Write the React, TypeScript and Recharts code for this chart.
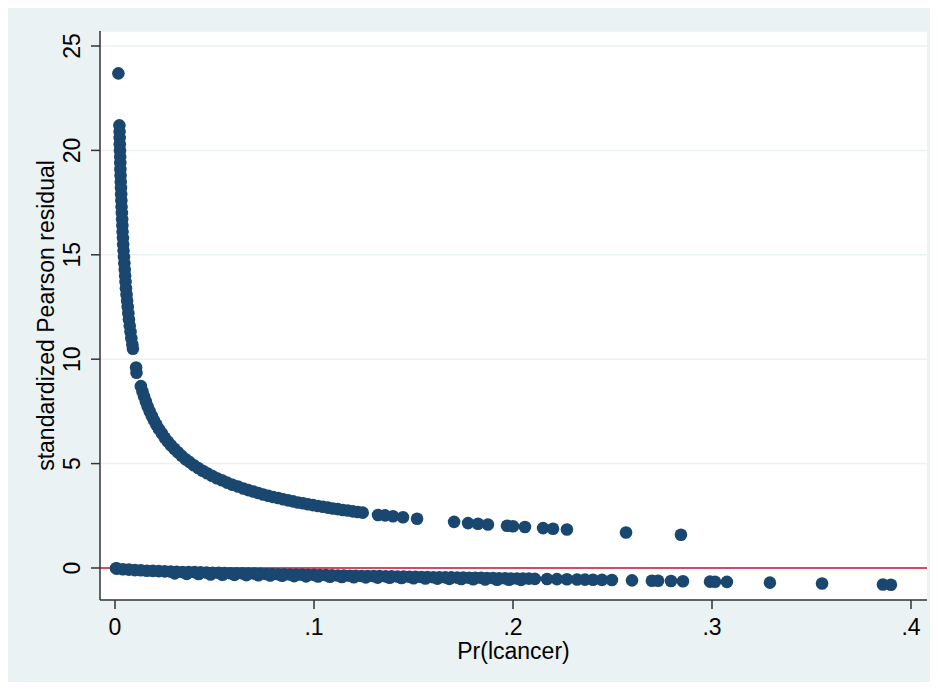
import { ScatterChart, Scatter, XAxis, YAxis, CartesianGrid, ReferenceLine } from 'recharts';

const FONT = '"Liberation Sans", Arial, Helvetica, sans-serif';
const NAVY = '#1a476f';
const BG = '#eaf2f3';

// [Pr(lcancer), standardized Pearson residual]
const upperTop: [number, number][] = [[0.0017, 23.69]];

const upperSteep: [number, number][] = [
  [0.0022, 21.2], [0.0023, 20.9], [0.00235, 20.6], [0.0024, 20.3], [0.0025, 20.0],
  [0.0026, 19.7], [0.00265, 19.4], [0.0027, 19.1], [0.0028, 18.8], [0.0029, 18.5],
  [0.003, 18.2], [0.0031, 17.9], [0.0032, 17.6], [0.0033, 17.3], [0.00345, 17.0],
  [0.0036, 16.7], [0.0037, 16.4], [0.0038, 16.1], [0.004, 15.8], [0.0041, 15.5],
  [0.0043, 15.2], [0.0045, 14.9], [0.0047, 14.6], [0.0049, 14.3], [0.0051, 14.0],
  [0.0053, 13.7], [0.0055, 13.4], [0.0058, 13.1], [0.0061, 12.8], [0.0064, 12.5],
  [0.0067, 12.2], [0.007, 11.9], [0.0074, 11.6], [0.0078, 11.3], [0.0082, 11.0],
  [0.0087, 10.7], [0.009, 10.5],
  [0.0106, 9.6], [0.0108, 9.35],
];

const upperBend: [number, number][] = [
  [0.013, 8.71], [0.0138, 8.45], [0.0146, 8.22], [0.0155, 7.97], [0.0164, 7.74],
  [0.0174, 7.51], [0.0185, 7.28], [0.0196, 7.07], [0.0208, 6.86], [0.0221, 6.65],
  [0.0235, 6.45], [0.025, 6.24], [0.0265, 6.06], [0.0281, 5.88], [0.0298, 5.71],
  [0.0316, 5.54], [0.0335, 5.37], [0.0355, 5.21], [0.0375, 5.07], [0.0396, 4.92],
  [0.0418, 4.79], [0.044, 4.66], [0.0463, 4.54], [0.0487, 4.42], [0.0512, 4.3],
  [0.0537, 4.2], [0.0563, 4.09], [0.059, 3.99], [0.0618, 3.9],
  [0.0645, 3.81], [0.067, 3.73], [0.0695, 3.66], [0.072, 3.59], [0.0745, 3.52],
  [0.077, 3.46], [0.0795, 3.4], [0.082, 3.35], [0.0845, 3.29], [0.087, 3.24],
  [0.0895, 3.19], [0.092, 3.14], [0.0945, 3.1], [0.097, 3.05], [0.0995, 3.01],
  [0.102, 2.97], [0.1045, 2.93], [0.107, 2.89], [0.1095, 2.85], [0.112, 2.82],
  [0.1145, 2.78], [0.117, 2.75], [0.1195, 2.71], [0.122, 2.68], [0.1245, 2.65],
];

const upperSparse: [number, number][] = [
  [0.1322, 2.54], [0.1357, 2.52], [0.1397, 2.48], [0.1447, 2.43], [0.1518, 2.36],
  [0.1704, 2.21], [0.1774, 2.15], [0.1824, 2.12], [0.1874, 2.08],
  [0.197, 2.02], [0.2, 2.0], [0.206, 1.96],
  [0.2151, 1.91], [0.2201, 1.88], [0.2271, 1.84],
  [0.2568, 1.7], [0.2844, 1.59],
];

const lowerDense: [number, number][] = [
  [0.0005, -0.01], [0.001, -0.03], [0.004, -0.06], [0.007, -0.08], [0.01, -0.1],
  [0.013, -0.11], [0.016, -0.13], [0.019, -0.14], [0.022, -0.15], [0.025, -0.16],
  [0.028, -0.17], [0.031, -0.18], [0.034, -0.19], [0.037, -0.2], [0.04, -0.2],
  [0.043, -0.21], [0.046, -0.22], [0.049, -0.23], [0.052, -0.23], [0.055, -0.24],
  [0.058, -0.25], [0.061, -0.25], [0.064, -0.26], [0.067, -0.27], [0.07, -0.27],
  [0.073, -0.28], [0.076, -0.29], [0.079, -0.29], [0.082, -0.3], [0.085, -0.3],
  [0.088, -0.31], [0.091, -0.32], [0.094, -0.32], [0.097, -0.33], [0.1, -0.33],
  [0.103, -0.34], [0.106, -0.34], [0.109, -0.35], [0.112, -0.36], [0.115, -0.36],
  [0.118, -0.37], [0.121, -0.37], [0.124, -0.38], [0.127, -0.38], [0.13, -0.39],
  [0.133, -0.39], [0.136, -0.4], [0.139, -0.4], [0.142, -0.41], [0.145, -0.41],
  [0.148, -0.42], [0.151, -0.42], [0.154, -0.43], [0.157, -0.43], [0.16, -0.44],
  [0.163, -0.44], [0.166, -0.45], [0.169, -0.45], [0.172, -0.46], [0.175, -0.46],
  [0.178, -0.47], [0.181, -0.47], [0.184, -0.47], [0.187, -0.48], [0.19, -0.48],
  [0.193, -0.49], [0.196, -0.49], [0.199, -0.5], [0.202, -0.5], [0.205, -0.51],
  [0.208, -0.51], [0.211, -0.52],
];

// second, slightly lower row that gives the y=0 band its thickness
const lowerDenseUnder: [number, number][] = [
  [0.03, -0.26], [0.036, -0.28], [0.042, -0.29], [0.048, -0.31], [0.054, -0.32],
  [0.06, -0.33], [0.066, -0.34], [0.072, -0.35], [0.078, -0.36], [0.084, -0.37],
  [0.09, -0.39], [0.096, -0.4], [0.102, -0.41], [0.108, -0.42], [0.114, -0.43],
  [0.12, -0.44], [0.126, -0.45], [0.132, -0.46], [0.138, -0.47], [0.144, -0.48],
  [0.15, -0.49], [0.156, -0.5], [0.162, -0.51], [0.168, -0.52], [0.174, -0.53],
  [0.18, -0.54], [0.186, -0.55], [0.192, -0.56], [0.198, -0.56], [0.204, -0.57],
];

const lowerSparse: [number, number][] = [
  [0.2171, -0.527], [0.2221, -0.535], [0.2271, -0.542], [0.2322, -0.55], [0.2362, -0.556],
  [0.2402, -0.562], [0.2447, -0.569], [0.2497, -0.577], [0.2598, -0.592], [0.2698, -0.608],
  [0.2729, -0.613], [0.2794, -0.623], [0.2854, -0.632], [0.299, -0.653], [0.3015, -0.657],
  [0.3075, -0.666], [0.3291, -0.701], [0.3553, -0.742], [0.3859, -0.793], [0.3899, -0.8],
];

const xTicks = [0, 0.1, 0.2, 0.3, 0.4];
const yTicks = [0, 5, 10, 15, 20, 25];

const toRows = (pts: [number, number][]) => pts.map(([p, r]) => ({ p, r }));
const positiveRows = toRows([...upperTop, ...upperSteep, ...upperBend, ...upperSparse]);
const negativeRows = toRows([...lowerDense, ...lowerDenseUnder, ...lowerSparse]);

const fmtX = (v: number) => (v === 0 ? '0' : String(v).replace(/^0\./, '.'));

const Dot = (props: any) => <circle cx={props.cx} cy={props.cy} r={6.3} fill={NAVY} />;

function YTick(props: any) {
  const { x, y, payload } = props;
  return (
    <text x={x} y={y} transform={`rotate(-90, ${x}, ${y})`} textAnchor="middle"
      fontSize={23} fontFamily={FONT} fill="#000">
      {payload.value}
    </text>
  );
}

function YTitle(props: any) {
  const vb = props.viewBox || { x: 40, y: 31, width: 60, height: 569 };
  const x = vb.x + 14;
  const y = vb.y + vb.height / 2;
  return (
    <text x={x} y={y} transform={`rotate(-90, ${x}, ${y})`} textAnchor="middle"
      fontSize={23} fontFamily={FONT} fill="#000">
      standardized Pearson residual
    </text>
  );
}

function XTitle(props: any) {
  const vb = props.viewBox || { x: 100, y: 600, width: 827, height: 40 };
  return (
    <text x={vb.x + vb.width / 2} y={vb.y + 59} textAnchor="middle"
      fontSize={23} fontFamily={FONT} fill="#000">
      Pr(lcancer)
    </text>
  );
}

export default function App() {
  return (
    <div style={{ position: 'relative', width: 938, height: 690, margin: -8, background: '#fff', overflow: 'hidden' }}>
      <div style={{ position: 'absolute', left: 7, top: 7, right: 0, bottom: 0, background: BG }} />
      <div style={{ position: 'absolute', left: 0, top: 0 }}>
        <ScatterChart width={938} height={690} margin={{ top: 31, right: 11, bottom: 50, left: 40 }}>
          <CartesianGrid vertical={false} fill="#ffffff" stroke={BG} strokeWidth={1.5} />
          <XAxis type="number" dataKey="p" domain={[-0.00754, 0.40804]} ticks={xTicks}
            allowDataOverflow tickFormatter={fmtX} height={40} tickSize={9} tickMargin={10}
            stroke="#333" strokeWidth={1.5}
            tick={{ fontSize: 23, fill: '#000', fontFamily: FONT }}
            label={{ content: XTitle }} />
          <YAxis type="number" dataKey="r" domain={[-1.533, 25.718]} ticks={yTicks}
            allowDataOverflow width={60} tickSize={9} tickMargin={11}
            stroke="#333" strokeWidth={1.5}
            tick={YTick}
            label={{ content: YTitle }} />
          <ReferenceLine y={0} stroke="#cc1133" strokeWidth={1.5} />
          <Scatter data={positiveRows} shape={Dot} isAnimationActive={false} />
          <Scatter data={negativeRows} shape={Dot} isAnimationActive={false} />
        </ScatterChart>
      </div>
    </div>
  );
}
